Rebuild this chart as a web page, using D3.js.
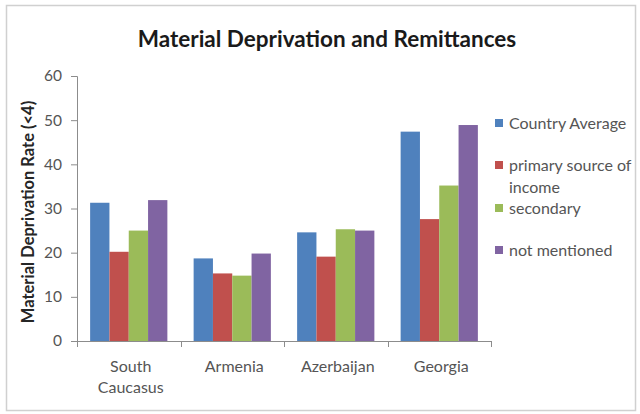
<!DOCTYPE html>
<html>
<head>
<meta charset="utf-8">
<script src="https://cdn.jsdelivr.net/npm/d3@7"></script>
<style>
  html, body { margin: 0; padding: 0; background: #fff; }
  svg { display: block; font-family: Lato, "Open Sans", sans-serif; }
</style>
</head>
<body>
<svg id="chart" width="640" height="414"></svg>
<script>
const categories = [["South", "Caucasus"], ["Armenia"], ["Azerbaijan"], ["Georgia"]];
const seriesNames = [["Country Average"], ["primary source of", "income"], ["secondary"], ["not mentioned"]];
const countryAverage = [31.3, 18.7, 24.6, 47.4];
const primarySource = [20.2, 15.3, 19.1, 27.6];
const secondary = [25.0, 14.8, 25.3, 35.2];
const notMentioned = [31.9, 19.8, 25.0, 48.9];
const yTicks = [0, 10, 20, 30, 40, 50, 60];
const colors = ["#4F81BD", "#C0504D", "#9BBB59", "#8064A2"];

const series = [countryAverage, primarySource, secondary, notMentioned];
const svg = d3.select("#chart");

// frame
svg.append("rect").attr("x", 6.5).attr("y", 5.5).attr("width", 629).attr("height", 405)
  .attr("fill", "#fff").attr("stroke", "#d0d0d0").attr("stroke-width", 1.5);

const plot = { left: 77, right: 491, top: 76, bottom: 341 };
const x0 = d3.scaleBand().domain(d3.range(categories.length)).range([plot.left, plot.right]).paddingInner(0).paddingOuter(0);
const x1 = d3.scaleBand().domain(d3.range(series.length)).range([0, x0.bandwidth()]).paddingOuter(0.68).paddingInner(0);
const y = d3.scaleLinear().domain([0, 60]).range([plot.bottom, plot.top]);

// title
svg.append("text").attr("x", 327).attr("y", 47).attr("text-anchor", "middle")
  .attr("font-size", 22.5).attr("font-weight", "bold").attr("fill", "#1a1a1a")
  .text("Material Deprivation and Remittances");

// y axis title
svg.append("text").attr("transform", "translate(34,212) rotate(-90)").attr("text-anchor", "middle")
  .attr("font-size", 16.5).attr("font-weight", "bold").attr("fill", "#262626")
  .text("Material Deprivation Rate (<4)");

// bars
categories.forEach((c, i) => {
  series.forEach((s, j) => {
    svg.append("rect")
      .attr("x", x0(i) + x1(j))
      .attr("y", y(s[i]))
      .attr("width", x1.bandwidth())
      .attr("height", y(0) - y(s[i]))
      .attr("fill", colors[j]);
  });
});

// y axis
const yAxis = svg.append("g").attr("transform", `translate(${plot.left},0)`)
  .call(d3.axisLeft(y).tickValues(yTicks).tickSize(6).tickPadding(9));
yAxis.select(".domain").attr("stroke", "#8c8c8c");
yAxis.selectAll(".tick line").attr("stroke", "#8c8c8c");
yAxis.selectAll(".tick text").attr("font-size", 15.5).attr("fill", "#555").attr("font-family", "Lato, sans-serif");

// x axis
const xBoundaries = d3.range(categories.length + 1).map(i => plot.left + i * x0.bandwidth());
svg.append("line").attr("x1", plot.left).attr("x2", plot.right).attr("y1", plot.bottom + 0.5).attr("y2", plot.bottom + 0.5)
  .attr("stroke", "#8c8c8c");
svg.selectAll(".xtick").data(xBoundaries).enter().append("line")
  .attr("x1", d => Math.round(d) + 0.5).attr("x2", d => Math.round(d) + 0.5)
  .attr("y1", plot.bottom).attr("y2", plot.bottom + 6).attr("stroke", "#8c8c8c");

categories.forEach((c, i) => {
  const cx = x0(i) + x0.bandwidth() / 2 + 2;
  const t = svg.append("text").attr("x", cx).attr("y", 372)
    .attr("text-anchor", "middle").attr("font-size", 16).attr("fill", "#555");
  c.forEach((line, k) => {
    t.append("tspan").attr("x", cx).attr("dy", k === 0 ? 0 : 21).text(line);
  });
});

// legend
const legendY = [123, 165, 208, 250];
seriesNames.forEach((name, j) => {
  svg.append("rect").attr("x", 495).attr("y", legendY[j] - 4).attr("width", 8).attr("height", 8).attr("fill", colors[j]);
  const t = svg.append("text").attr("x", 509).attr("y", legendY[j] + 5.5).attr("font-size", 16).attr("fill", "#555");
  name.forEach((line, k) => {
    t.append("tspan").attr("x", 509).attr("dy", k === 0 ? 0 : 22).text(line);
  });
});
</script>
</body>
</html>
